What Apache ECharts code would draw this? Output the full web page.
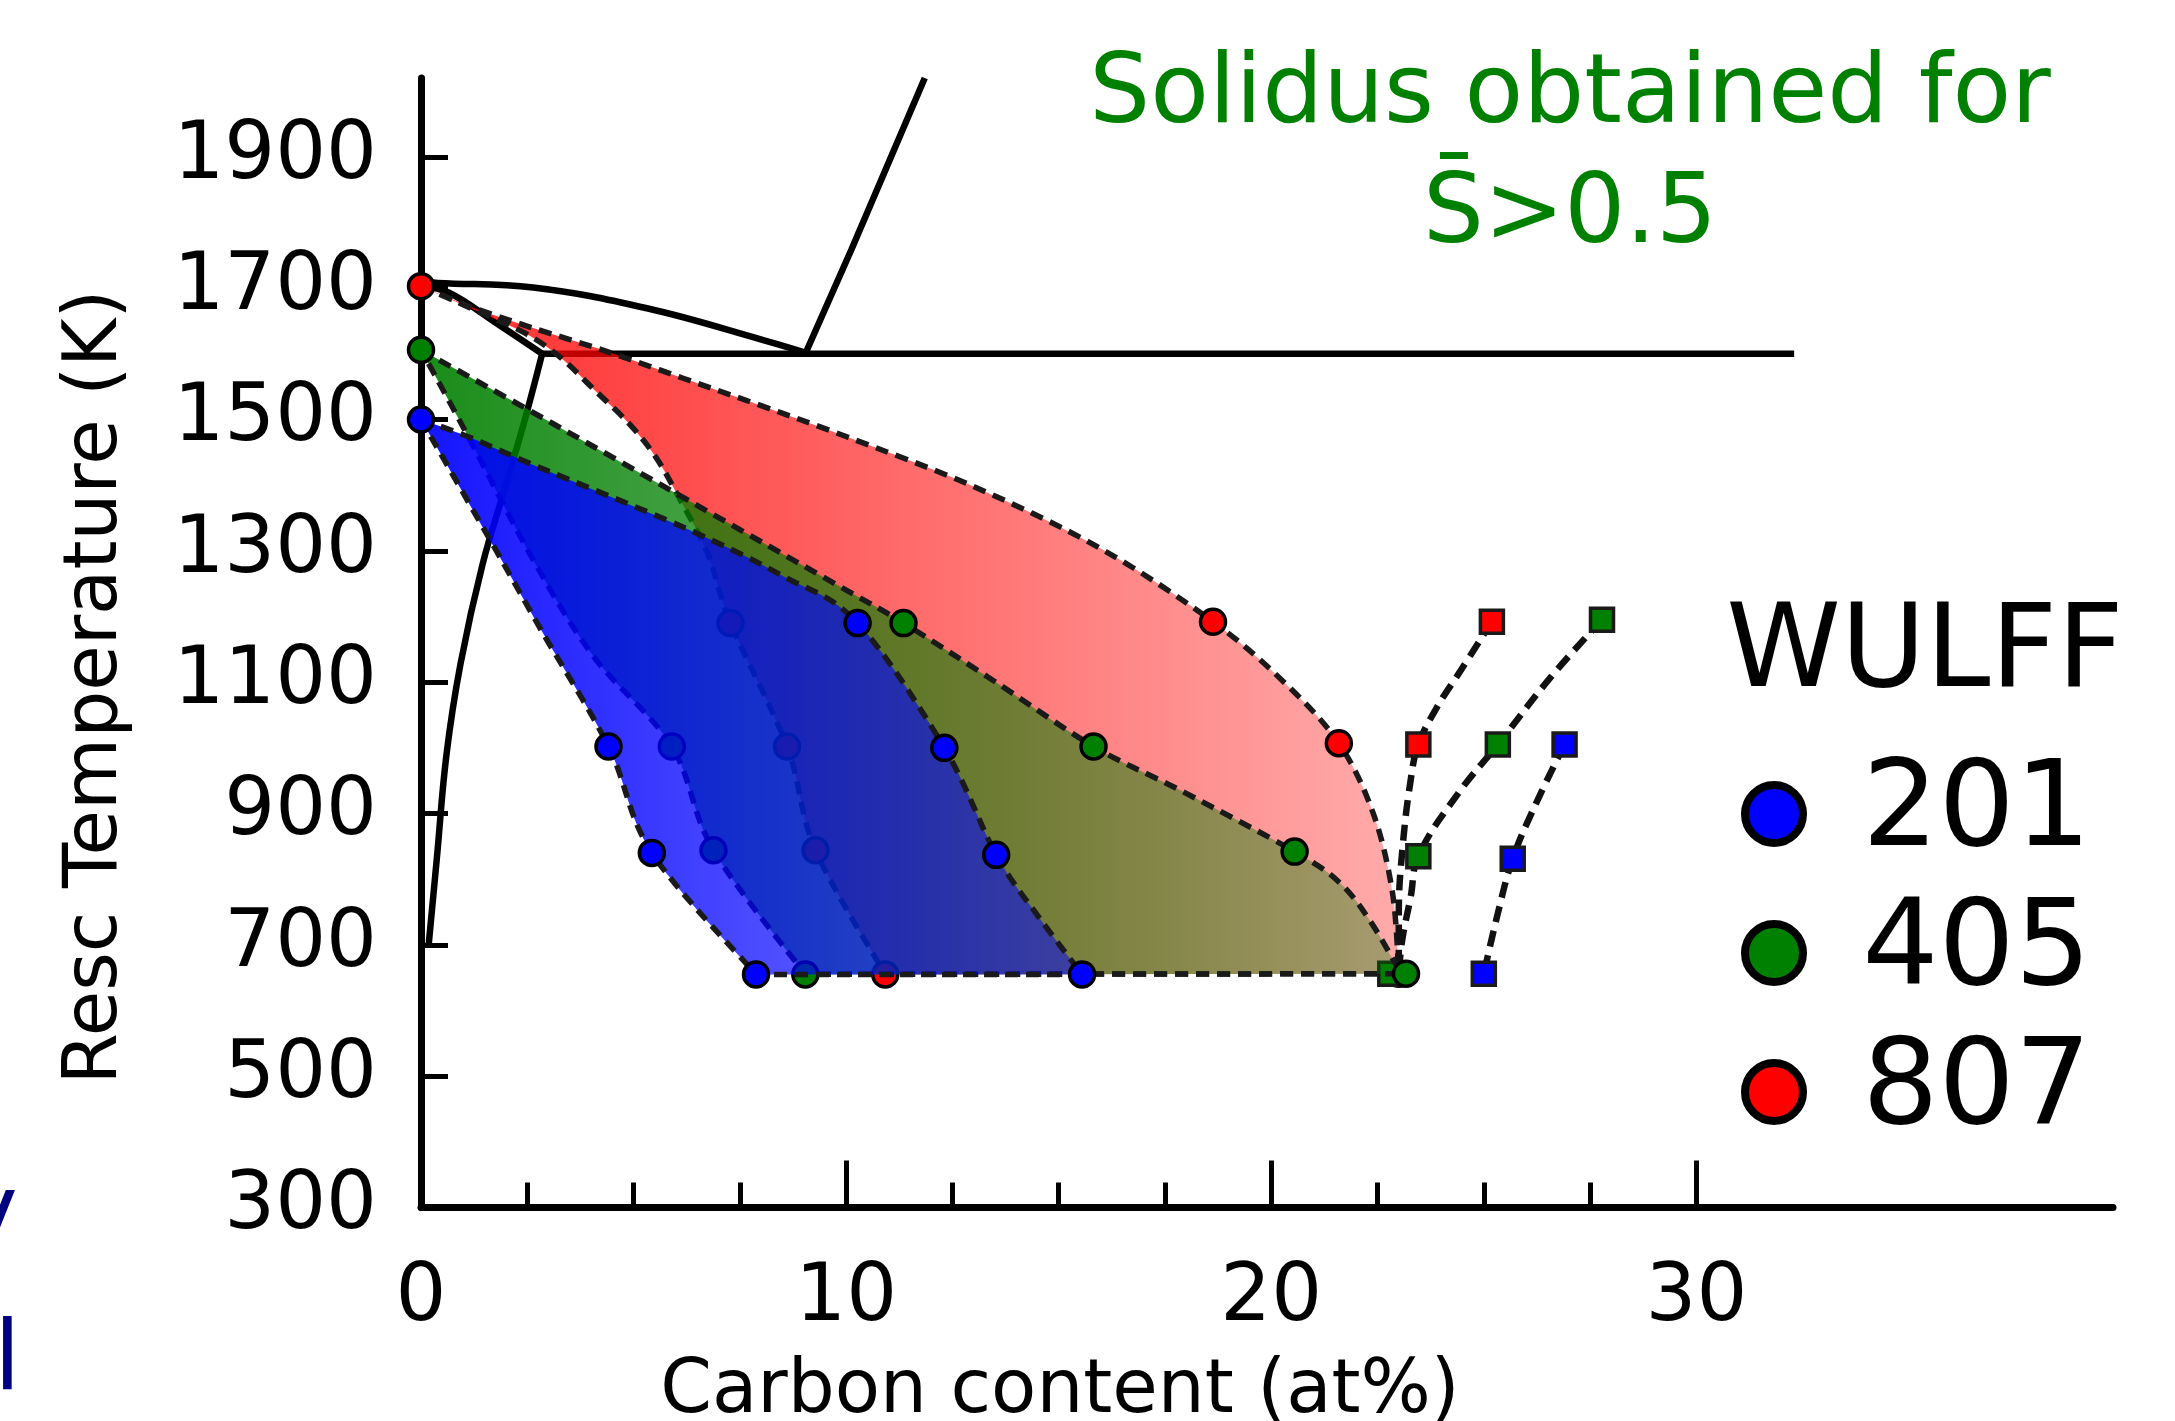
<!DOCTYPE html>
<html><head><meta charset="utf-8">
<script src="https://cdn.jsdelivr.net/npm/echarts@6/dist/echarts.min.js"></script>
<style>html,body{margin:0;padding:0;background:#fff}#c{width:2175px;height:1421px}</style>
</head><body><div id="c"></div>
<script>
// ---------------- data (carbon at%, temperature K) ----------------
const xTickLabels = [0, 10, 20, 30];
const xMinorTicks = [2.5, 5, 7.5, 12.5, 15, 17.5, 22.5, 25, 27.5];
const yTickLabels = [300, 500, 700, 900, 1100, 1300, 1500, 1700, 1900];
const wulffNames = ['201', '405', '807'];

// phase diagram (solid black lines)
const phaseUpper = [[0,1710],[0.4,1708],[2.64,1701],[5.34,1669],[8.05,1621],[9.04,1602]];
const phaseSteep = [[9.04,1600],[10.12,1758],[11.85,2020]];
const phaseArc = [[0,1703],[0.66,1693],[1.74,1648],[2.85,1600]];
const phaseSolvus = [[2.85,1600],[2.46,1504],[2.01,1403],[1.45,1280],[0.93,1128],[0.6,990],[0.37,830],[0.18,700]];
const phaseEutectic = [[2.85,1600],[32.3,1600]];

// region outlines (right/upper boundary from top, left boundary from top)
const red807Right = [[0,1703],[1.2,1671],[2.6,1640],[4.4,1603],[6.2,1562],[8.0,1521],[10.0,1474],[13.0,1398],[16.0,1303],[18.63,1192],[20.3,1100],[21.59,1007],[22.4,900],[22.85,780],[23.0,656]];
const red807Left = [[0,1703],[1.29,1666],[2.46,1631],[3.27,1595],[4.08,1545],[4.89,1494],[5.52,1443],[6.06,1382],[6.75,1295],[7.28,1190],[8.61,1002],[9.28,844],[10.92,655]];
const green405Right = [[0,1606],[3.15,1492],[6.42,1372],[9.68,1252],[11.35,1190],[13.45,1103],[15.82,1002],[17.84,936],[20.55,842],[21.62,794],[22.36,733],[23.05,656]];
const green405Left = [[0,1606],[1.11,1474],[2.64,1286],[4.06,1139],[5.90,1002],[6.88,844],[9.04,655]];
const blue201Right = [[0,1500],[1.1,1474],[2.6,1432],[6.2,1335],[8.5,1262],[10.27,1190],[12.31,1000],[13.53,837],[14.5,745],[15.55,655]];
const blue201Left = [[0,1500],[1.78,1299],[2.82,1180],[4.41,1002],[5.43,840],[7.88,655]];

// circle markers
const blue201Dots = [[0,1500],[10.27,1190],[12.31,1000],[13.53,837],[15.55,655],[4.41,1002],[5.43,840],[7.88,655]];
const green405Dots = [[0,1606],[11.35,1190],[15.82,1002],[20.55,842],[23.17,656],[5.90,1002],[6.88,844],[9.04,655]];
const red807Dots = [[0,1703],[18.63,1192],[21.59,1007],[23.0,656],[7.28,1190],[8.61,1002],[9.28,844],[10.92,655]];

// square markers and their dashed curves
const red807Squares = [[25.19,1192],[23.46,1005]];
const green405Squares = [[27.78,1195],[25.33,1005],[23.46,835],[22.8,656]];
const blue201Squares = [[26.9,1005],[25.68,831],[25.0,656]];
const red807SquareCurve = [[25.19,1192],[24.46,1118],[23.9,1062],[23.46,1005],[23.28,951],[23.09,849],[23.0,748],[23.0,656]];
const green405SquareCurve = [[27.78,1195],[26.58,1108],[25.33,1005],[24.39,930],[23.46,835],[23.28,773],[23.08,707],[23.0,656]];
const blue201SquareCurve = [[26.9,1005],[26.19,910],[25.68,831],[25.33,748],[25.0,656]];

// ---------------- helpers ----------------
function catmull(pts, start) {
  let d = (start ? 'M' : 'L') + pts[0][0] + ' ' + pts[0][1];
  for (let i = 0; i < pts.length - 1; i++) {
    const p0 = pts[i - 1] || pts[i], p1 = pts[i], p2 = pts[i + 1], p3 = pts[i + 2] || pts[i + 1];
    const c1x = p1[0] + (p2[0] - p0[0]) / 6, c1y = p1[1] + (p2[1] - p0[1]) / 6;
    const c2x = p2[0] - (p3[0] - p1[0]) / 6, c2y = p2[1] - (p3[1] - p1[1]) / 6;
    d += 'C' + c1x + ' ' + c1y + ' ' + c2x + ' ' + c2y + ' ' + p2[0] + ' ' + p2[1];
  }
  return d;
}
function regionSeries(id, right, left, rgb, a0, a1, z) {
  return {
    type: 'custom', id: id, silent: true, clip: false, z: z,
    data: [right[0]], encode: { x: 0, y: 1 },
    renderItem: function (params, api) {
      const R = right.map(p => api.coord(p));
      const L = left.slice().reverse().map(p => api.coord(p));
      const d = catmull(R, true) + catmull(L, false) + 'Z';
      const xs = R.concat(L).map(p => p[0]);
      const x0 = Math.min.apply(null, xs), x1 = Math.max.apply(null, xs);
      return {
        type: 'path',
        shape: { pathData: d },
        style: {
          fill: new echarts.graphic.LinearGradient(x0, 0, x1, 0, [
            { offset: 0, color: 'rgba(' + rgb + ',' + a0 + ')' },
            { offset: 1, color: 'rgba(' + rgb + ',' + a1 + ')' }], true),
          stroke: '#1a1a1a', lineWidth: 5.5, lineDash: [13, 8]
        }
      };
    }
  };
}
function solid(data, smooth) {
  return { type: 'line', data: data, smooth: smooth, symbol: 'none', silent: true, clip: false, z: 1,
    lineStyle: { color: '#000', width: 6.5 } };
}
function dots(name, data, color, z) {
  return { type: 'scatter', name: name, data: data, symbol: 'circle', symbolSize: 25, clip: false, silent: true, z: z,
    itemStyle: { color: color, borderColor: '#000', borderWidth: 3.5, opacity: 1 } };
}
function squares(name, data, color, z) {
  return { type: 'scatter', name: name, data: data, symbol: 'rect', symbolSize: 23, clip: false, silent: true, z: z,
    itemStyle: { color: color, borderColor: '#1a1a1a', borderWidth: 3.5, opacity: 1 } };
}
function dashed(data, z) {
  return { type: 'line', data: data, smooth: 0.4, symbol: 'none', silent: true, clip: false, z: z,
    lineStyle: { color: '#111', width: 6.5, type: [16, 9] } };
}

const FONT = '"DejaVu Sans"';
const txt = (x, y, text, size, color, extra) => Object.assign({
  type: 'text', x: x, y: y, silent: true,
  style: { text: text, font: size + 'px ' + FONT, fill: color,
    textAlign: 'center', textVerticalAlign: 'middle', align: 'center', verticalAlign: 'middle' }
}, extra || {});

const chart = echarts.init(document.getElementById('c'), null, { renderer: 'canvas' });
chart.setOption({
  animation: false,
  backgroundColor: '#fff',
  textStyle: { fontFamily: 'DejaVu Sans' },
  grid: { left: 421, right: 62, top: 78, bottom: 213.5, containLabel: false, outerBoundsMode: 'none' },
  xAxis: [{
    type: 'value', min: 0, max: 39.8, position: 'bottom',
    axisLine: { show: true, onZero: false, lineStyle: { color: '#000', width: 7 } },
    axisTick: { show: true, inside: true, length: 47, lineStyle: { color: '#000', width: 5 }, customValues: xTickLabels },
    axisLabel: { show: true, margin: 52, fontSize: 80, color: '#000', fontFamily: 'DejaVu Sans', customValues: xTickLabels, formatter: v => String(v) },
    splitLine: { show: false }, minorTick: { show: false }
  }, {
    type: 'value', min: 0, max: 39.8, position: 'bottom',
    axisLine: { show: false, onZero: false },
    axisTick: { show: true, inside: true, length: 25, lineStyle: { color: '#000', width: 5 }, customValues: xMinorTicks },
    axisLabel: { show: false }, splitLine: { show: false }
  }],
  yAxis: {
    type: 'value', min: 300, max: 2020,
    axisLine: { show: true, onZero: false, lineStyle: { color: '#000', width: 7 } },
    axisTick: { show: true, inside: true, length: 27, lineStyle: { color: '#000', width: 5 }, customValues: yTickLabels },
    axisLabel: { show: true, margin: 44, fontSize: 80, color: '#000', fontFamily: 'DejaVu Sans', customValues: yTickLabels,
      padding: [8, 0, 0, 0], formatter: v => String(v) },
    splitLine: { show: false }
  },
  legend: {
    data: wulffNames, orient: 'vertical', left: 1741, top: 754, padding: 0,
    itemWidth: 58, itemHeight: 58, itemGap: 19, icon: 'circle', selectedMode: false,
    itemStyle: { borderColor: '#000', borderWidth: 8 },
    textStyle: { fontSize: 120, color: '#000', fontFamily: 'DejaVu Sans', lineHeight: 120, padding: [0, 0, 0, 16] },
    formatter: n => ' ' + n
  },
  graphic: [
    txt(1570, 97, 'Solidus obtained for', 96, '#008000'),
    txt(1570, 217, 'S\u0304>0.5', 96, '#008000'),
    txt(1925, 656, 'WULFF', 116, '#000'),
    txt(1060, 1393, 'Carbon content (at%)', 74, '#000'),
    txt(97, 687, 'Resc Temperature (K)', 74, '#000', { rotation: Math.PI / 2 }),
    { type: 'text', x: -39, y: 1218, silent: true, style: { text: 'y', font: '96px ' + FONT, fill: '#000080', textAlign: 'left', align: 'left', textVerticalAlign: 'middle', verticalAlign: 'middle' } },
    { type: 'text', x: -6, y: 1364, silent: true, style: { text: 'l', font: '96px ' + FONT, fill: '#000080', textAlign: 'left', align: 'left', textVerticalAlign: 'middle', verticalAlign: 'middle' } }
  ],
  series: [
    solid(phaseUpper, 0.4),
    solid(phaseSteep, false),
    solid(phaseArc, 0.4),
    solid(phaseSolvus, 0.4),
    solid(phaseEutectic, false),
    regionSeries('r807', red807Right, red807Left, '255,0,0', 0.83, 0.33, 2),
    dots('807', red807Dots, '#ff0000', 3),
    dashed(red807SquareCurve, 4),
    dashed(green405SquareCurve, 4),
    dashed(blue201SquareCurve, 4),
    squares('807 sq', red807Squares, '#ff0000', 5),
    squares('405 sq', green405Squares, '#008000', 5),
    squares('201 sq', blue201Squares, '#0000ff', 5),
    regionSeries('g405', green405Right, green405Left, '0,128,0', 0.9, 0.34, 6),
    dots('405', green405Dots, '#008000', 7),
    regionSeries('b201', blue201Right, blue201Left, '0,0,255', 0.92, 0.5, 8),
    dots('201', blue201Dots, '#0000ff', 9)
  ]
});
</script>
</body></html>
